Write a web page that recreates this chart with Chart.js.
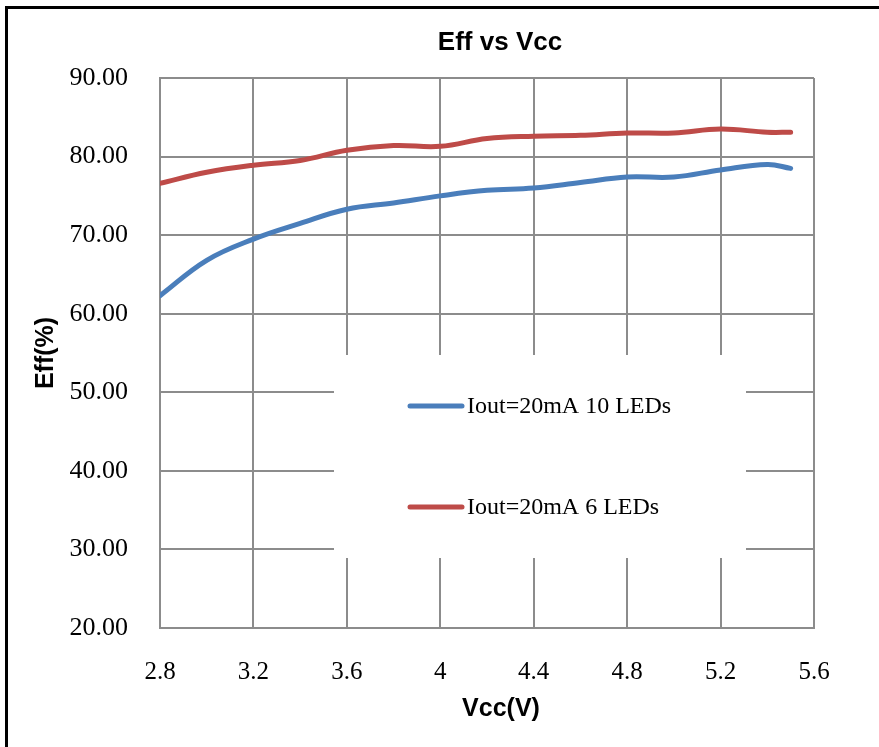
<!DOCTYPE html>
<html>
<head>
<meta charset="utf-8">
<script src="https://cdn.jsdelivr.net/npm/chart.js@4.4.1/dist/chart.umd.min.js"></script>
<style>
  html, body { margin: 0; padding: 0; background: #fff; }
  #wrap { position: relative; width: 879px; height: 747px; }
</style>
</head>
<body>
<div id="wrap"><canvas id="myChart" width="879" height="747"></canvas></div>
<script>
// values
const vcc = [2.8, 3.0, 3.2, 3.4, 3.6, 3.8, 4.0, 4.2, 4.4, 4.6, 4.8, 5.0, 5.2, 5.4, 5.5];
const eff10Leds = [62.3, 66.8, 69.5, 71.5, 73.3, 74.1, 75.0, 75.7, 76.0, 76.7, 77.4, 77.4, 78.3, 79.0, 78.5];
const eff6Leds = [76.6, 78.0, 78.9, 79.5, 80.8, 81.4, 81.3, 82.3, 82.6, 82.7, 83.0, 83.0, 83.5, 83.1, 83.1];
const seriesLabels = ['Iout=20mA 10 LEDs', 'Iout=20mA 6 LEDs'];
const xTicks = [2.8, 3.2, 3.6, 4, 4.4, 4.8, 5.2, 5.6];
const yTicks = [20, 30, 40, 50, 60, 70, 80, 90];

const gridColor = '#8c8c8c';

// titles, inner legend box and the frame
const decor = {
  id: 'decor',
  beforeDatasetsDraw(chart) {
    const ctx = chart.ctx;
    ctx.save();
    ctx.fillStyle = '#fff';
    ctx.fillRect(334, 355, 412, 203);
    const rows = [406, 507];
    chart.data.datasets.forEach((ds, i) => {
      ctx.strokeStyle = ds.borderColor;
      ctx.lineWidth = 5;
      ctx.lineCap = 'round';
      ctx.beginPath();
      ctx.moveTo(410, rows[i]);
      ctx.lineTo(462, rows[i]);
      ctx.stroke();
      ctx.fillStyle = '#000';
      ctx.font = '24px "Liberation Serif"';
      ctx.textBaseline = 'middle';
      ctx.textAlign = 'left';
      ctx.fillText(ds.label, 467, rows[i] + 1);
    });
    ctx.restore();
  },
  afterDraw(chart) {
    const ctx = chart.ctx;
    ctx.save();
    ctx.fillStyle = '#000';
    ctx.textAlign = 'center';
    ctx.textBaseline = 'middle';
    ctx.font = 'bold 26px "Liberation Sans"';
    ctx.fillText('Eff vs Vcc', 500, 43);
    ctx.font = 'bold 25px "Liberation Sans"';
    ctx.fillText('Vcc(V)', 501, 709);
    ctx.translate(46, 353);
    ctx.rotate(-Math.PI / 2);
    ctx.fillText('Eff(%)', 0, 0);
    ctx.restore();
    ctx.save();
    ctx.strokeStyle = '#000';
    ctx.lineWidth = 3;
    ctx.beginPath();
    ctx.moveTo(6.5, 747);
    ctx.lineTo(6.5, 7.5);
    ctx.lineTo(879, 7.5);
    ctx.stroke();
    ctx.restore();
  },
};

const ctx = document.getElementById('myChart').getContext('2d');
const chart = new Chart(ctx, {
  type: 'line',
  data: {
    datasets: [
      {
        label: seriesLabels[0],
        borderColor: '#4A7EBB',
        backgroundColor: '#4A7EBB',
        data: vcc.map((v, i) => ({ x: v, y: eff10Leds[i] })),
        borderWidth: 5,
        pointRadius: 0,
        fill: false,
        tension: 0.4,
        borderCapStyle: 'round',
      },
      {
        label: seriesLabels[1],
        borderColor: '#BE4B48',
        backgroundColor: '#BE4B48',
        data: vcc.map((v, i) => ({ x: v, y: eff6Leds[i] })),
        borderWidth: 5,
        pointRadius: 0,
        fill: false,
        tension: 0.4,
        borderCapStyle: 'round',
      },
    ],
  },
  options: {
    responsive: false,
    animation: false,
    devicePixelRatio: 1,
    layout: { padding: { left: 0, top: 78, right: 65, bottom: 0 } },
    plugins: {
      legend: { display: false },
      title: { display: false },
      tooltip: { enabled: false },
    },
    scales: {
      x: {
        type: 'linear',
        min: 2.8,
        max: 5.6,
        afterBuildTicks(axis) {
          axis.ticks = xTicks.map(v => ({ value: v }));
        },
        afterFit(axis) { axis.height = 119; },
        grid: { color: gridColor, lineWidth: 2, drawTicks: false },
        border: { color: gridColor, width: 2 },
        ticks: {
          padding: 29,
          color: '#000',
          font: { family: 'Liberation Serif', size: 25 },
          maxRotation: 0,
          callback: v => String(v),
        },
      },
      y: {
        min: 20,
        max: 90,
        afterBuildTicks(axis) {
          axis.ticks = yTicks.map(v => ({ value: v }));
        },
        afterFit(axis) { axis.width = 160; },
        grid: { color: gridColor, lineWidth: 2, drawTicks: false },
        border: { color: gridColor, width: 2 },
        ticks: {
          padding: 32,
          color: '#000',
          font: { family: 'Liberation Serif', size: 26 },
          callback: v => v.toFixed(2),
        },
      },
    },
  },
  plugins: [decor],
});
</script>
</body>
</html>
